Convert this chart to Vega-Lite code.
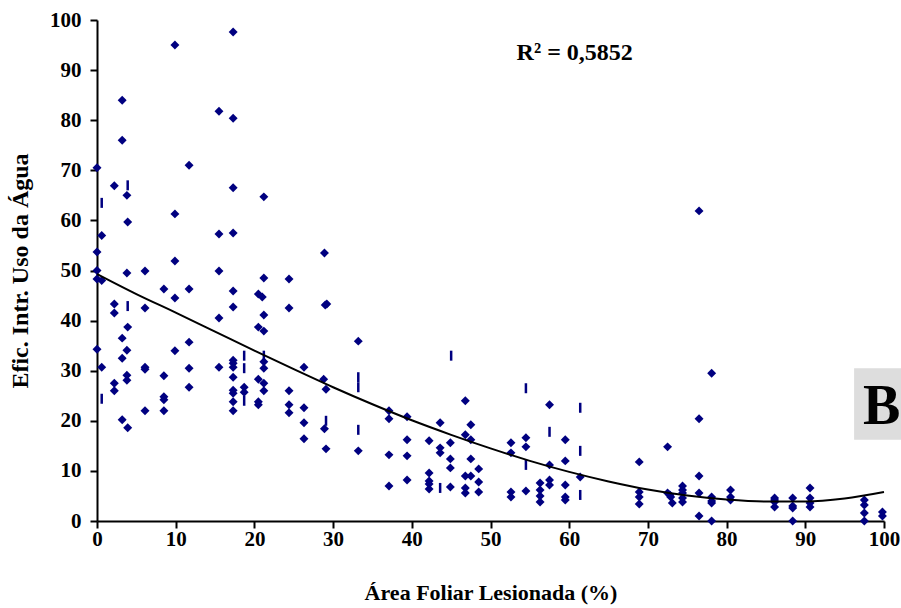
{
  "$schema": "https://vega.github.io/schema/vega-lite/v6.json",
  "width": 787,
  "height": 501,
  "autosize": {"type": "none"},
  "padding": {"left": 97, "top": 20, "right": 17, "bottom": 87},
  "background": "white",
  "config": {
    "view": {"stroke": null},
    "font": "Liberation Serif",
    "axis": {
      "grid": false,
      "domainColor": "black",
      "domainWidth": 2,
      "tickColor": "black",
      "tickWidth": 2,
      "tickSize": 7,
      "labelFont": "Liberation Serif",
      "labelFontWeight": "bold",
      "labelFontSize": 21,
      "labelColor": "black",
      "titleFont": "Liberation Serif",
      "titleFontWeight": "bold",
      "titleColor": "black"
    }
  },
  "datasets": {
    "diamonds": [
      {"x": 0, "y": 70.5}, {"x": 0, "y": 53.7}, {"x": 0, "y": 50}, {"x": 0, "y": 48.3}, {"x": 0.6, "y": 48}, {"x": 0.6, "y": 57}, {"x": 0, "y": 34.3}, {"x": 0.6, "y": 30.7},
      {"x": 2.2, "y": 66.9}, {"x": 2.2, "y": 43.3}, {"x": 2.2, "y": 41.5}, {"x": 2.2, "y": 27.5}, {"x": 2.2, "y": 26},
      {"x": 3.2, "y": 84}, {"x": 3.2, "y": 76}, {"x": 3.2, "y": 36.5}, {"x": 3.2, "y": 32.5}, {"x": 3.2, "y": 20.2},
      {"x": 3.8, "y": 65}, {"x": 3.9, "y": 59.7}, {"x": 3.8, "y": 49.5}, {"x": 3.9, "y": 38.7}, {"x": 3.8, "y": 34.1}, {"x": 3.8, "y": 29.1}, {"x": 3.8, "y": 28.1}, {"x": 3.9, "y": 18.6},
      {"x": 6.1, "y": 49.9}, {"x": 6.1, "y": 42.5}, {"x": 6.1, "y": 30.7}, {"x": 6.1, "y": 30.3}, {"x": 6.1, "y": 22},
      {"x": 8.5, "y": 46.3}, {"x": 8.5, "y": 29}, {"x": 8.5, "y": 24.8}, {"x": 8.5, "y": 24.2}, {"x": 8.5, "y": 22},
      {"x": 9.9, "y": 95}, {"x": 9.9, "y": 61.3}, {"x": 9.9, "y": 51.9}, {"x": 9.9, "y": 44.5}, {"x": 9.9, "y": 34},
      {"x": 11.7, "y": 71}, {"x": 11.7, "y": 46.3}, {"x": 11.7, "y": 35.7}, {"x": 11.7, "y": 30.5}, {"x": 11.7, "y": 26.7},
      {"x": 15.5, "y": 81.8}, {"x": 15.5, "y": 57.3}, {"x": 15.5, "y": 49.9}, {"x": 15.5, "y": 40.5}, {"x": 15.5, "y": 30.7},
      {"x": 17.3, "y": 97.6}, {"x": 17.3, "y": 80.4}, {"x": 17.3, "y": 66.5}, {"x": 17.3, "y": 57.5}, {"x": 17.3, "y": 45.9}, {"x": 17.3, "y": 42.7}, {"x": 17.3, "y": 32.1}, {"x": 17.3, "y": 31.5}, {"x": 17.3, "y": 30.7}, {"x": 17.3, "y": 28.7}, {"x": 17.3, "y": 26.1}, {"x": 17.3, "y": 25.5}, {"x": 17.3, "y": 23.8}, {"x": 17.3, "y": 22},
      {"x": 18.7, "y": 26.7}, {"x": 18.7, "y": 25.7},
      {"x": 21.2, "y": 64.7}, {"x": 21.2, "y": 48.5}, {"x": 20.5, "y": 45.3}, {"x": 21, "y": 44.7}, {"x": 21.2, "y": 41.1}, {"x": 20.5, "y": 38.7}, {"x": 21.2, "y": 37.9}, {"x": 21.2, "y": 31.8}, {"x": 21.2, "y": 30.5}, {"x": 20.5, "y": 28.3}, {"x": 21.2, "y": 27.5}, {"x": 21.2, "y": 26}, {"x": 20.5, "y": 23.8}, {"x": 20.5, "y": 23.2},
      {"x": 24.4, "y": 48.3}, {"x": 24.4, "y": 42.5}, {"x": 24.4, "y": 26}, {"x": 24.4, "y": 23.2}, {"x": 24.4, "y": 21.6},
      {"x": 26.3, "y": 30.7}, {"x": 26.3, "y": 22.6}, {"x": 26.3, "y": 19.6}, {"x": 26.3, "y": 16.4},
      {"x": 28.9, "y": 53.5}, {"x": 29, "y": 43.1}, {"x": 29.2, "y": 43.3}, {"x": 28.8, "y": 28.3}, {"x": 29.1, "y": 26.3}, {"x": 28.9, "y": 18.4}, {"x": 29.1, "y": 14.4},
      {"x": 33.2, "y": 35.9}, {"x": 33.2, "y": 14},
      {"x": 37.1, "y": 22}, {"x": 37.1, "y": 20.4}, {"x": 37.1, "y": 13.2}, {"x": 37.1, "y": 7},
      {"x": 39.4, "y": 20.8}, {"x": 39.4, "y": 16.2}, {"x": 39.4, "y": 13}, {"x": 39.4, "y": 8.2},
      {"x": 42.2, "y": 16}, {"x": 42.2, "y": 9.6}, {"x": 42.2, "y": 8}, {"x": 42.2, "y": 7.4}, {"x": 42.2, "y": 6.4},
      {"x": 43.6, "y": 19.6}, {"x": 43.6, "y": 14.6}, {"x": 43.6, "y": 13.6},
      {"x": 44.9, "y": 15.6}, {"x": 44.9, "y": 12.4}, {"x": 44.9, "y": 10.6}, {"x": 44.9, "y": 6.8},
      {"x": 46.8, "y": 24}, {"x": 46.8, "y": 17.2}, {"x": 46.8, "y": 9}, {"x": 46.8, "y": 6.6}, {"x": 46.8, "y": 5.6},
      {"x": 47.5, "y": 19.2}, {"x": 47.5, "y": 16.2}, {"x": 47.5, "y": 12.4}, {"x": 47.5, "y": 9},
      {"x": 48.5, "y": 10.4}, {"x": 48.5, "y": 7.8}, {"x": 48.5, "y": 5.8},
      {"x": 52.6, "y": 15.6}, {"x": 52.6, "y": 13.6}, {"x": 52.6, "y": 5.8}, {"x": 52.6, "y": 4.8},
      {"x": 54.5, "y": 16.6}, {"x": 54.5, "y": 14.8}, {"x": 54.5, "y": 6},
      {"x": 56.3, "y": 7.6}, {"x": 56.3, "y": 6.2}, {"x": 56.3, "y": 5}, {"x": 56.3, "y": 3.8},
      {"x": 57.5, "y": 23.2}, {"x": 57.5, "y": 11.2}, {"x": 57.5, "y": 8.2}, {"x": 57.5, "y": 7.2},
      {"x": 59.5, "y": 16.2}, {"x": 59.5, "y": 12}, {"x": 59.5, "y": 7.2}, {"x": 59.5, "y": 4.8}, {"x": 59.5, "y": 4.2},
      {"x": 61.4, "y": 8.8},
      {"x": 68.9, "y": 11.8}, {"x": 68.9, "y": 5.8}, {"x": 68.9, "y": 4.8}, {"x": 68.9, "y": 3.4},
      {"x": 72.5, "y": 14.8}, {"x": 72.5, "y": 5.6}, {"x": 72.8, "y": 5.2}, {"x": 72.9, "y": 4.8}, {"x": 73.1, "y": 3.6},
      {"x": 74.4, "y": 7}, {"x": 74.4, "y": 6.2}, {"x": 74.4, "y": 5.6}, {"x": 74.4, "y": 4.6}, {"x": 74.4, "y": 3.8},
      {"x": 76.5, "y": 61.9}, {"x": 76.5, "y": 20.4}, {"x": 76.5, "y": 9}, {"x": 76.5, "y": 5.6}, {"x": 76.5, "y": 1},
      {"x": 78.1, "y": 29.5}, {"x": 78.1, "y": 4.8}, {"x": 78.1, "y": 4}, {"x": 78.1, "y": 3.6}, {"x": 78.1, "y": 0},
      {"x": 80.5, "y": 6.2}, {"x": 80.5, "y": 4.8}, {"x": 80.5, "y": 4.2},
      {"x": 86.1, "y": 4.6}, {"x": 86.1, "y": 4.2}, {"x": 86.1, "y": 3.8}, {"x": 86.1, "y": 2.8},
      {"x": 88.4, "y": 4.6}, {"x": 88.4, "y": 3}, {"x": 88.4, "y": 2.6}, {"x": 88.4, "y": 0},
      {"x": 90.6, "y": 6.6}, {"x": 90.6, "y": 4.6}, {"x": 90.6, "y": 3.6}, {"x": 90.6, "y": 2.8},
      {"x": 97.5, "y": 4.2}, {"x": 97.5, "y": 3.2}, {"x": 97.5, "y": 1.6}, {"x": 97.5, "y": 0},
      {"x": 99.8, "y": 1.8}, {"x": 99.8, "y": 1}
    ],
    "dashes": [
      {"x": 0.6, "y": 63.5}, {"x": 0.6, "y": 24.4}, {"x": 3.9, "y": 67}, {"x": 3.9, "y": 42.9},
      {"x": 18.7, "y": 33}, {"x": 18.7, "y": 30.5}, {"x": 18.7, "y": 24}, {"x": 21.2, "y": 33},
      {"x": 29.1, "y": 20}, {"x": 33.2, "y": 28.7}, {"x": 33.2, "y": 26.7}, {"x": 33.2, "y": 18.2},
      {"x": 43.6, "y": 6.6}, {"x": 45, "y": 33}, {"x": 54.5, "y": 26.5}, {"x": 54.5, "y": 11.2},
      {"x": 57.5, "y": 17.8}, {"x": 61.4, "y": 22.6}, {"x": 61.4, "y": 14}, {"x": 61.4, "y": 5.2}
    ],
    "trend": [
      {"x": 0, "y": 49.3}, {"x": 5, "y": 45.3}, {"x": 10, "y": 41.6}, {"x": 15, "y": 37.8}, {"x": 20, "y": 34.0},
      {"x": 25, "y": 30.3}, {"x": 30, "y": 26.7}, {"x": 35, "y": 23.3}, {"x": 40, "y": 20.1}, {"x": 45, "y": 17.2},
      {"x": 50, "y": 14.5}, {"x": 55, "y": 12.0}, {"x": 60, "y": 9.8}, {"x": 65, "y": 7.9}, {"x": 70, "y": 6.3},
      {"x": 75, "y": 5.1}, {"x": 80, "y": 4.3}, {"x": 85, "y": 3.9}, {"x": 90, "y": 3.9}, {"x": 95, "y": 4.5}, {"x": 100, "y": 5.8}
    ],
    "one": [{}]
  },
  "layer": [
    {
      "data": {"name": "diamonds"},
      "mark": {"type": "point", "shape": "diamond", "filled": true, "color": "#000080", "opacity": 1, "size": 80},
      "encoding": {
        "x": {"field": "x", "type": "quantitative", "scale": {"domain": [0, 100], "nice": false},
          "axis": {"values": [0,10,20,30,40,50,60,70,80,90,100], "labelPadding": 0, "title": "Área Foliar Lesionada (%)", "titleFontSize": 22, "titlePadding": 33, "labelFlush": false}},
        "y": {"field": "y", "type": "quantitative", "scale": {"domain": [0, 100], "nice": false},
          "axis": {"values": [0,10,20,30,40,50,60,70,80,90,100], "labelPadding": 9, "title": "Efic. Intr. Uso da Água", "titleFontSize": 24, "titlePadding": 17, "labelFlush": false}}
      }
    },
    {
      "data": {"name": "dashes"},
      "mark": {"type": "point", "shape": "M0,-1L0,1", "filled": false, "stroke": "#000080", "strokeWidth": 2.5, "opacity": 1, "size": 100},
      "encoding": {
        "x": {"field": "x", "type": "quantitative"},
        "y": {"field": "y", "type": "quantitative"}
      }
    },
    {
      "data": {"name": "trend"},
      "mark": {"type": "line", "color": "black", "strokeWidth": 2, "interpolate": "monotone"},
      "encoding": {
        "x": {"field": "x", "type": "quantitative"},
        "y": {"field": "y", "type": "quantitative"}
      }
    },
    {
      "data": {"name": "one"},
      "mark": {"type": "text", "text": "R² = 0,5852", "font": "Liberation Serif", "fontWeight": "bold", "fontSize": 24, "color": "black", "align": "center", "baseline": "middle"},
      "encoding": {"x": {"datum": 60.7}, "y": {"datum": 93.5}}
    },
    {
      "data": {"name": "one"},
      "mark": {"type": "rect", "color": "#dddddd", "clip": false},
      "encoding": {"x": {"datum": 96.2}, "x2": {"datum": 103.5}, "y": {"datum": 30.5}, "y2": {"datum": 16.2}}
    },
    {
      "data": {"name": "one"},
      "mark": {"type": "text", "text": "B", "font": "Liberation Serif", "fontWeight": "bold", "fontSize": 56, "color": "black", "align": "center", "baseline": "middle", "dy": 3},
      "encoding": {"x": {"datum": 99.7}, "y": {"datum": 23.4}}
    }
  ]
}
